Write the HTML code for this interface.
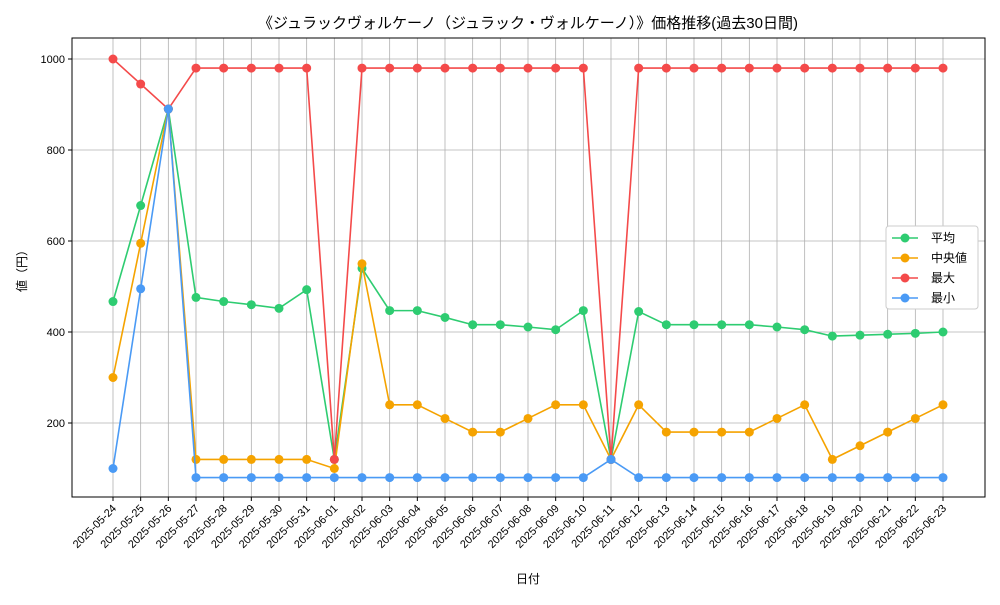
<!DOCTYPE html>
<html><head><meta charset="utf-8"><style>
body{margin:0;background:#fff;font-family:"Liberation Sans","Noto Sans CJK JP",sans-serif}
</style></head><body>
<svg id="chart" width="1000" height="600" xmlns="http://www.w3.org/2000/svg" font-family="Liberation Sans, Noto Sans CJK JP, sans-serif"></svg>
<script>
const dates=["2025-05-24","2025-05-25","2025-05-26","2025-05-27","2025-05-28","2025-05-29","2025-05-30","2025-05-31","2025-06-01","2025-06-02","2025-06-03","2025-06-04","2025-06-05","2025-06-06","2025-06-07","2025-06-08","2025-06-09","2025-06-10","2025-06-11","2025-06-12","2025-06-13","2025-06-14","2025-06-15","2025-06-16","2025-06-17","2025-06-18","2025-06-19","2025-06-20","2025-06-21","2025-06-22","2025-06-23"];
const meanVals=[467,678,890,476,467,460,452,493,120,540,447,447,432,416,416,411,405,447,120,445,416,416,416,416,411,405,391,393,395,397,400];
const medianVals=[300,595,890,120,120,120,120,120,100,550,240,240,210,180,180,210,240,240,120,240,180,180,180,180,210,240,120,150,180,210,240];
const maxVals=[1000,945,890,980,980,980,980,980,120,980,980,980,980,980,980,980,980,980,120,980,980,980,980,980,980,980,980,980,980,980,980];
const minVals=[100,495,890,80,80,80,80,80,80,80,80,80,80,80,80,80,80,80,120,80,80,80,80,80,80,80,80,80,80,80,80];
const yTicks=[200,400,600,800,1000];
const seriesNames=["平均","中央値","最大","最小"];
const colors=["#2ecc71","#f5a300","#f44a4a","#4a9af5"];
const svg=document.getElementById('chart');const NS="http://www.w3.org/2000/svg";
const L=72,R=985,T=38,B=497;
const x=i=>113+i*(943-113)/(dates.length-1);
const y=v=>514-v*0.455;
function mk(t,a,p){const e=document.createElementNS(NS,t);for(const k in a)e.setAttribute(k,a[k]);(p||svg).appendChild(e);return e;}
dates.forEach((d,i)=>{const g=mk('line',{x1:x(i),x2:x(i),y1:T,y2:B,stroke:'#b0b0b0','stroke-width':0.8});

mk('line',{x1:x(i),x2:x(i),y1:B,y2:B+4,stroke:'#000'});
const t=mk('text',{x:x(i)+4,y:B+12,'font-size':11,'text-anchor':'end',transform:`rotate(-45 ${x(i)+4} ${B+12})`});t.textContent=d;
});
yTicks.forEach(v=>{const g=mk('line',{x1:L,x2:R,y1:y(v),y2:y(v),stroke:'#b0b0b0','stroke-width':0.8});

mk('line',{x1:L-4,x2:L,y1:y(v),y2:y(v),stroke:'#000'});
const t=mk('text',{x:L-7,y:y(v)+4,'font-size':11,'text-anchor':'end'});t.textContent=v;
});
const fr=mk('rect',{x:L,y:T,width:R-L,height:B-T,fill:'none',stroke:'#000','stroke-width':1});

[meanVals,medianVals,maxVals,minVals].forEach((vals,s)=>{
const g=mk('g',{});
mk('polyline',{points:vals.map((v,i)=>x(i)+','+y(v)).join(' '),fill:'none',stroke:colors[s],'stroke-width':1.6},g);
vals.forEach((v,i)=>{const c=mk('circle',{cx:x(i),cy:y(v),r:4.5,fill:colors[s]},g);});});
const lg=mk('g',{});
mk('rect',{x:886,y:226,width:92,height:83,fill:'#fff',stroke:'#ccc',rx:3},lg);
seriesNames.forEach((n,s)=>{const yy=238+s*20;
mk('line',{x1:892,x2:918,y1:yy,y2:yy,stroke:colors[s],'stroke-width':1.6},lg);
mk('circle',{cx:905,cy:yy,r:4.5,fill:colors[s]},lg);
const t=mk('text',{x:931,y:yy+4,'font-size':12},lg);t.textContent=n;});
let t=mk('text',{x:528,y:28,'font-size':15,'text-anchor':'middle'});t.textContent="《ジュラックヴォルケーノ（ジュラック・ヴォルケーノ）》価格推移(過去30日間)";
t=mk('text',{x:528,y:583,'font-size':12,'text-anchor':'middle'});t.textContent="日付";
t=mk('text',{x:26,y:268,'font-size':12,'text-anchor':'middle',transform:'rotate(-90 26 268)'});t.textContent="値（円）";
</script>
</body></html>
